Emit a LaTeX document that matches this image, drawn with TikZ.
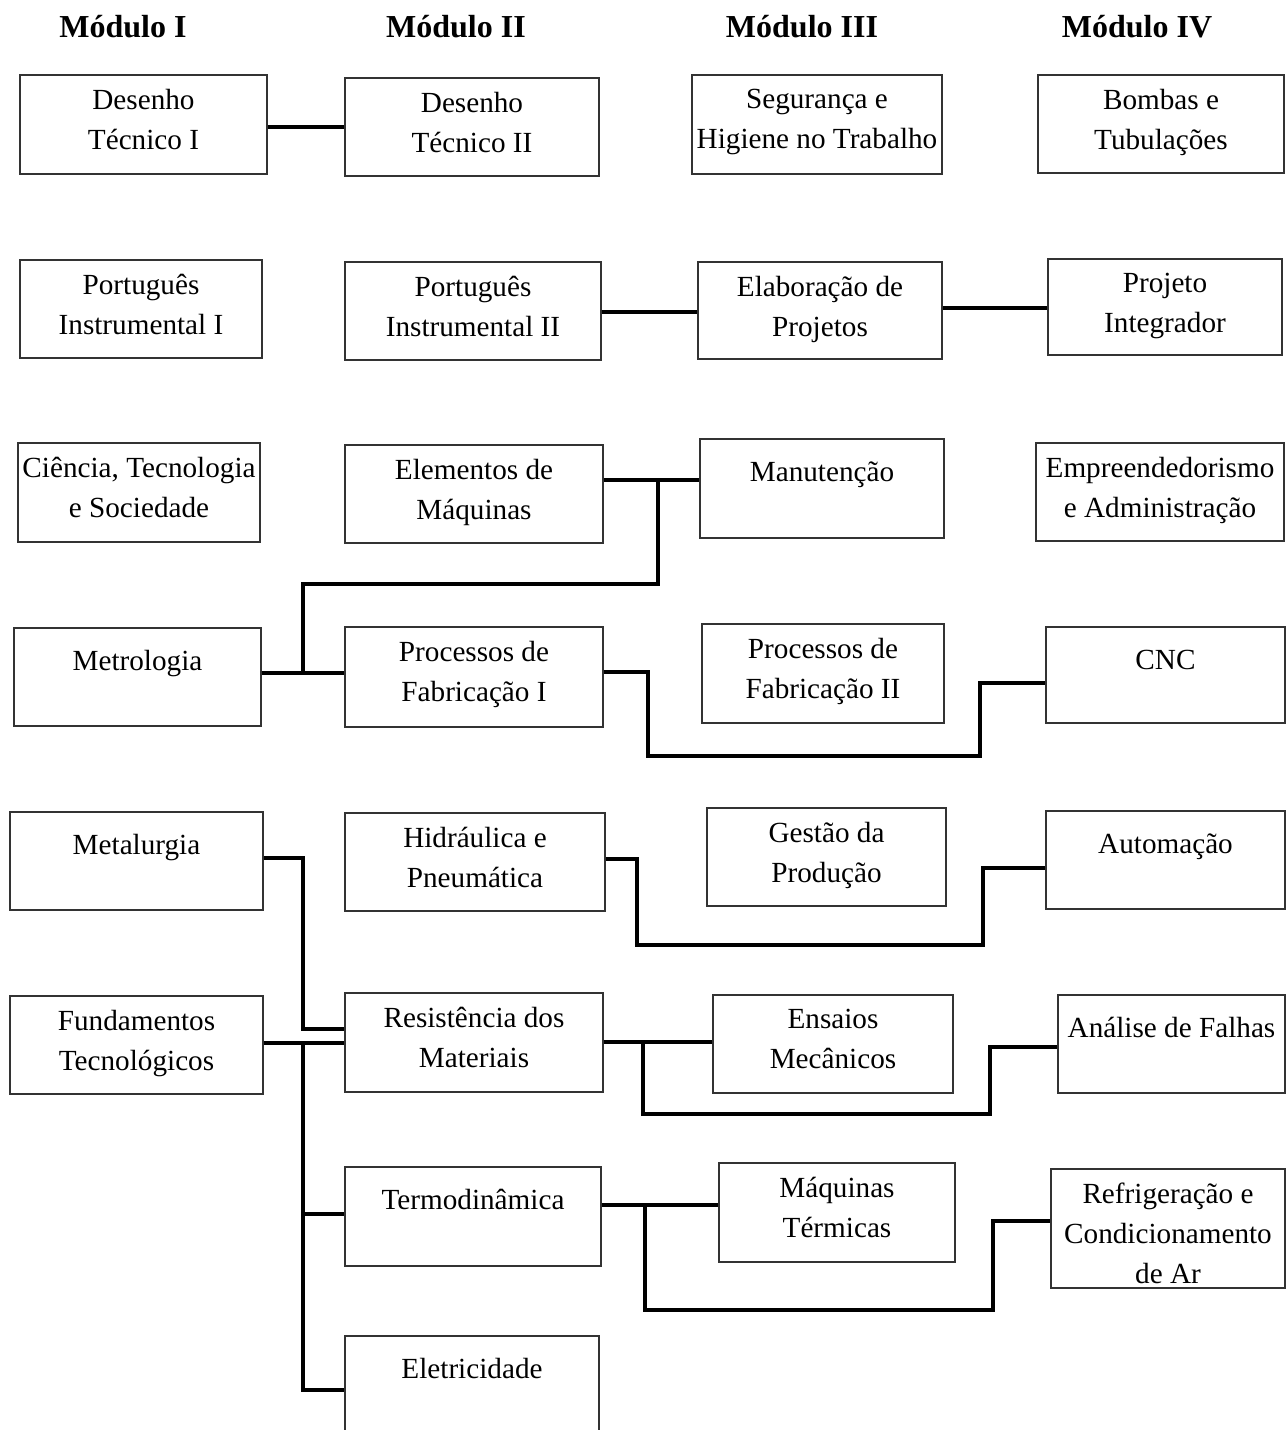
\documentclass[tikz,border=0pt]{standalone}
\usepackage{fontspec}
\setmainfont{Liberation Serif}
\tikzset{
  boxst/.style={draw=black!80, line width=0.55pt, rectangle, inner sep=0pt, fill=white},
  txt/.style={anchor=north, inner sep=0pt, align=center, font=\fontsize{14.6}{20}\selectfont, execute at begin node=\strut},
  hdr/.style={anchor=base, inner sep=0pt, font=\fontsize{16}{19}\selectfont\bfseries},
  conn/.style={line width=2pt, draw=black, line join=miter}
}
\newcommand\boxnode[6]{%
  \node[boxst, minimum width={(#4-#2)*0.5pt}, minimum height={(#5-#3)*0.5pt}] (#1) at ({(#2+#4)/2},{(#3+#5)/2}) {};
  \node[txt] (#1-t) at ({(#2+#4)/2},{#3+14}) {#6};
}
\begin{document}
\begin{tikzpicture}[x=0.5pt,y=-0.5pt]
\useasboundingbox (0,0) rectangle (1287,1430);
\fill[white] (0,0) rectangle (1287,1430);
\clip (0,0) rectangle (1287,1430);

% headers
\node[hdr] (h1) at (123,37) {Módulo I};
\node[hdr] (h2) at (456,37) {Módulo II};
\node[hdr] (h3) at (802,37) {Módulo III};
\node[hdr] (h4) at (1137,37) {Módulo IV};

% row 1
\boxnode{DT1}{20}{75}{267}{174}{Desenho\\Técnico I}
\boxnode{DT2}{345}{78}{599}{176}{Desenho\\Técnico II}
\boxnode{SHT}{692}{75}{942}{174}{Segurança e\\Higiene no Trabalho}
\boxnode{BT}{1038}{75}{1284}{173}{Bombas e\\Tubulações}
% row 2
\boxnode{PI1}{20}{260}{262}{358}{Português\\Instrumental I}
\boxnode{PI2}{345}{262}{601}{360}{Português\\Instrumental II}
\boxnode{EP}{698}{262}{942}{359}{Elaboração de\\Projetos}
\boxnode{PInt}{1048}{259}{1282}{355}{Projeto\\Integrador}
% row 3
\boxnode{CTS}{18}{443}{260}{542}{Ciência, Tecnologia\\e Sociedade}
\boxnode{EM}{345}{445}{603}{543}{Elementos de\\Máquinas}
\boxnode{Man}{700}{439}{944}{538}{Manutenção}
\boxnode{EA}{1036}{443}{1284}{541}{Empreendedorismo\\e Administração}
% row 4
\boxnode{Met}{14}{628}{261}{726}{Metrologia}
\boxnode{PF1}{345}{627}{603}{727}{Processos de\\Fabricação I}
\boxnode{PF2}{702}{624}{944}{723}{Processos de\\Fabricação II}
\boxnode{CNC}{1046}{627}{1285}{723}{CNC}
% row 5
\boxnode{Metal}{10}{812}{263}{910}{Metalurgia}
\boxnode{HP}{345}{813}{605}{911}{Hidráulica e\\Pneumática}
\boxnode{GP}{707}{808}{946}{906}{Gestão da\\Produção}
\boxnode{Aut}{1046}{811}{1285}{909}{Automação}
% row 6
\boxnode{FT}{10}{996}{263}{1094}{Fundamentos\\Tecnológicos}
\boxnode{RM}{345}{993}{603}{1092}{Resistência dos\\Materiais}
\boxnode{EnsM}{713}{995}{953}{1093}{Ensaios\\Mecânicos}
\boxnode{AF}{1058}{995}{1285}{1093}{Análise de Falhas}
% row 7
\boxnode{Termo}{345}{1167}{601}{1266}{Termodinâmica}
\boxnode{MT}{719}{1163}{955}{1262}{Máquinas\\Térmicas}
\boxnode{RCA}{1051}{1169}{1285}{1288}{Refrigeração e\\Condicionamento\\de Ar}
% row 8
\boxnode{Elet}{345}{1336}{599}{1460}{Eletricidade}

% junction coordinates
\coordinate (j1) at (658,480);
\coordinate (j2) at (303,673);
\coordinate (j3) at (303,1043);
\coordinate (j4) at (643,1042);
\coordinate (j5) at (645,1205);

% connectors
\draw[conn] (DT1.east |- 0,127) -- (DT2.west |- 0,127);
\draw[conn] (PI2.east |- 0,312) -- (EP.west |- 0,312);
\draw[conn] (EP.east |- 0,308) -- (PInt.west |- 0,308);

\draw[conn] (EM.east |- 0,480) -- (Man.west |- 0,480);
\draw[conn] (j1) -- (j1 |- 0,584) -- (j2 |- 0,584) -- (j2);
\draw[conn] (Met.east |- 0,673) -- (PF1.west |- 0,673);

\draw[conn] (PF1.east |- 0,672) -- (648,672) -- (648,756) -- (980,756) -- (980,683) -- (CNC.west |- 0,683);
\draw[conn] (HP.east |- 0,859) -- (637,859) -- (637,945) -- (983,945) -- (983,868) -- (Aut.west |- 0,868);

\draw[conn] (Metal.east |- 0,858) -- (303,858) -- (303,1029) -- (RM.west |- 0,1029);
\draw[conn] (FT.east |- 0,1043) -- (RM.west |- 0,1043);
\draw[conn] (j3) -- (303,1390) -- (Elet.west |- 0,1390);
\draw[conn] (303,1214) -- (Termo.west |- 0,1214);

\draw[conn] (RM.east |- 0,1042) -- (EnsM.west |- 0,1042);
\draw[conn] (j4) -- (643,1114) -- (990,1114) -- (990,1047) -- (AF.west |- 0,1047);

\draw[conn] (Termo.east |- 0,1205) -- (MT.west |- 0,1205);
\draw[conn] (j5) -- (645,1310) -- (993,1310) -- (993,1221) -- (RCA.west |- 0,1221);
\end{tikzpicture}
\end{document}
